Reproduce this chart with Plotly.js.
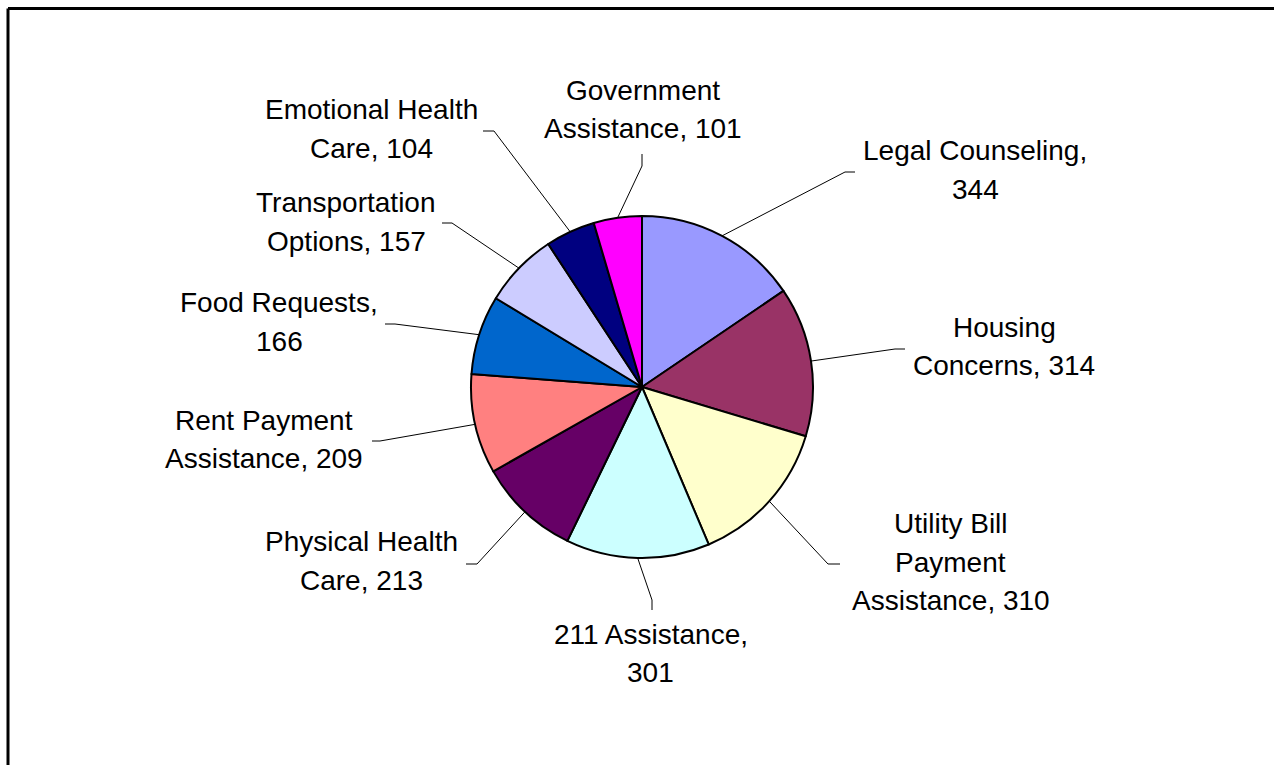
<!DOCTYPE html>
<html>
<head>
<meta charset="utf-8">
<script src="https://cdn.plot.ly/plotly-3.0.1.min.js"></script>
<style>
  html, body { margin: 0; padding: 0; background: #fff; }
  #chart { width: 1274px; height: 765px; }
</style>
</head>
<body>
<div id="chart"></div>
<script>
// ---- data ----
const categories = [
  "Legal Counseling", "Housing Concerns", "Utility Bill Payment Assistance",
  "211 Assistance", "Physical Health Care", "Rent Payment Assistance",
  "Food Requests", "Transportation Options", "Emotional Health Care",
  "Government Assistance"
];
const values = [344, 314, 310, 301, 213, 209, 166, 157, 104, 101];
const colors = [
  "#9999FF", "#993366", "#FFFFCC", "#CCFFFF", "#660066",
  "#FF8080", "#0066CC", "#CCCCFF", "#000080", "#FF00FF"
];

// ---- layout helpers (positions in pixels) ----
const W = 1274, H = 765;
const CX = 642, CY = 387, R = 171;
// word indices where a new label line starts
const labelBreaks = [[2], [1], [2, 3], [2], [2], [2], [2], [1], [2], [1]];
// first line centre (x, y) of each label
const labelPos = [
  [975, 150.5], [1004, 327], [950.5, 523.5], [650.5, 634], [362, 541.7],
  [264, 420], [279, 303], [346.5, 202.7], [371, 110], [642.5, 90]
];
const lineGap = 38.5;
// leader line elbow and end points
const leaderPts = [
  [[845, 172], [855, 172]],
  [[895, 349], [905, 349]],
  [[828, 564], [840, 564]],
  [[652, 600], [652, 610]],
  [[477, 564], [466, 564]],
  [[380, 441], [372, 441]],
  [[395, 324], [385, 324]],
  [[452, 223], [442, 223]],
  [[494, 131], [483, 131]],
  [[642, 166], [642, 154]]
];

const px = x => x / W;
const py = y => 1 - y / H;

const total = values.reduce((a, b) => a + b, 0);
const annotations = [];
const shapes = [];
let cum = 0;
values.forEach((v, i) => {
  const mid = (cum + v / 2) / total * 2 * Math.PI;
  cum += v;
  const ex = CX + R * Math.sin(mid);
  const ey = CY - R * Math.cos(mid);
  const [p1, p2] = leaderPts[i];
  shapes.push({
    type: "path", xref: "paper", yref: "paper",
    path: `M ${px(ex)},${py(ey)} L ${px(p1[0])},${py(p1[1])} L ${px(p2[0])},${py(p2[1])}`,
    line: { color: "#000", width: 1 }
  });
  const words = (categories[i] + ", " + values[i]).split(" ");
  const cuts = [0].concat(labelBreaks[i], [words.length]);
  for (let k = 0; k < cuts.length - 1; k++) {
    annotations.push({
      xref: "paper", yref: "paper",
      x: px(labelPos[i][0]), y: py(labelPos[i][1] + k * lineGap),
      xanchor: "center", yanchor: "middle",
      text: words.slice(cuts[k], cuts[k + 1]).join(" "),
      showarrow: false,
      font: { family: "Liberation Sans, Arial, sans-serif", size: 28, color: "#000" }
    });
  }
});

// chart frame (top and left edges visible)
shapes.push({ type: "line", xref: "paper", yref: "paper",
  x0: px(8), y0: py(8.5), x1: px(1274), y1: py(8.5), line: { color: "#000", width: 3 } });
shapes.push({ type: "line", xref: "paper", yref: "paper",
  x0: px(8), y0: py(8.5), x1: px(8), y1: py(765), line: { color: "#000", width: 3 } });

const trace = {
  type: "pie",
  labels: categories,
  values: values,
  sort: false,
  direction: "clockwise",
  rotation: 0,
  textinfo: "none",
  textposition: "none",
  hoverinfo: "label+value",
  marker: { colors: colors, line: { color: "#000", width: 2 } },
  domain: {
    x: [px(CX - R), px(CX + R)],
    y: [py(CY + R), py(CY - R)]
  },
  showlegend: false
};

const layout = {
  width: W, height: H,
  margin: { l: 0, r: 0, t: 0, b: 0, pad: 0 },
  paper_bgcolor: "#fff",
  plot_bgcolor: "#fff",
  showlegend: false,
  shapes: shapes,
  annotations: annotations
};

Plotly.newPlot("chart", [trace], layout, { displayModeBar: false, staticPlot: true });
</script>
</body>
</html>
